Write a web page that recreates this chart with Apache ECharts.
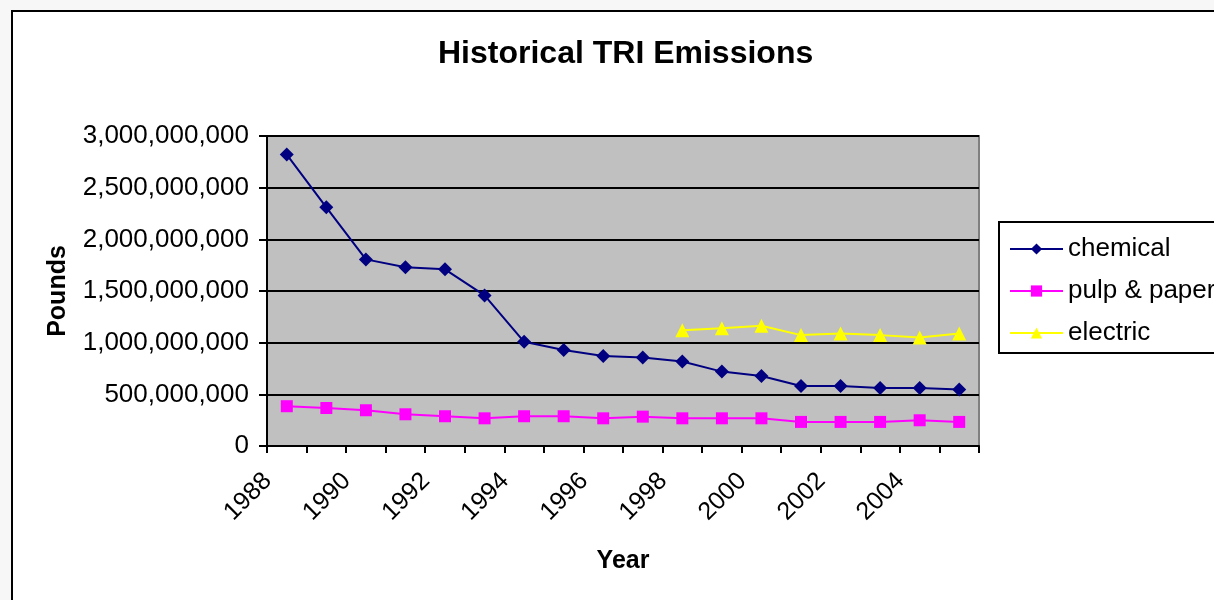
<!DOCTYPE html>
<html>
<head>
<meta charset="utf-8">
<script src="https://cdn.jsdelivr.net/npm/echarts@6/dist/echarts.min.js"></script>
<style>
  html, body { margin: 0; padding: 0; background: #f7f7f7; overflow: hidden; }
  #frame { position: absolute; left: 11px; top: 10px; width: 1300px; height: 700px; border: 2px solid #000; background: #fff; }
  #chart { position: absolute; left: 0; top: 0; width: 1214px; height: 600px; }
</style>
</head>
<body>
<div id="frame"></div>
<div id="chart"></div>
<script>
  // data
  var years = ['1988','1989','1990','1991','1992','1993','1994','1995','1996',
               '1997','1998','1999','2000','2001','2002','2003','2004','2005'];
  var chemical = [2820000000, 2310000000, 1806000000, 1730000000, 1710000000, 1457000000,
                  1008000000, 930000000, 872000000, 856000000, 817000000, 720000000,
                  678000000, 580000000, 580000000, 562000000, 562000000, 546000000];
  var pulpPaper = [385000000, 368000000, 346000000, 307000000, 288000000, 268000000,
                   288000000, 288000000, 268000000, 284000000, 268000000, 268000000,
                   268000000, 233000000, 233000000, 233000000, 249000000, 233000000];
  var electric = [null, null, null, null, null, null, null, null, null, null,
                  1120000000, 1140000000, 1163000000, 1073000000, 1089000000, 1073000000,
                  1050000000, 1089000000];

  var font = "'Liberation Sans', Arial, sans-serif";
  var myChart = echarts.init(document.getElementById('chart'));

  var option = {
    animation: false,
    title: {
      text: 'Historical TRI Emissions',
      left: 433,
      top: 33,
      textStyle: { fontFamily: font, fontSize: 32, fontWeight: 'bold', color: '#000' }
    },
    legend: {
      orient: 'vertical',
      left: 999,
      top: 222,
      borderColor: '#000',
      borderWidth: 2,
      padding: [14, 60, 7, 10],
      itemWidth: 53,
      itemHeight: 14,
      itemGap: 16,
      textStyle: { fontFamily: font, fontSize: 26, color: '#000' },
      data: ['chemical', 'pulp & paper', 'electric']
    },
    grid: {
      left: 267,
      right: 235,
      top: 136,
      bottom: 154,
      show: true,
      backgroundColor: '#c0c0c0',
      borderColor: '#808080',
      borderWidth: 2
    },
    xAxis: {
      type: 'category',
      data: years,
      boundaryGap: true,
      name: 'Year',
      nameLocation: 'middle',
      nameGap: 103,
      nameTextStyle: { fontFamily: font, fontSize: 25, fontWeight: 'bold', color: '#000' },
      axisLine: { lineStyle: { color: '#000', width: 2 } },
      axisTick: { show: true, interval: 0, length: 7, lineStyle: { color: '#000', width: 2 } },
      axisLabel: {
        interval: 1, rotate: 45, margin: 12,
        padding: [8, 27, 0, 0],
        fontFamily: font, fontSize: 25, color: '#000'
      },
      splitLine: { show: false }
    },
    yAxis: {
      type: 'value',
      min: 0,
      max: 3000000000,
      interval: 500000000,
      name: 'Pounds',
      nameLocation: 'middle',
      nameRotate: 90,
      nameGap: 196,
      nameTextStyle: { fontFamily: font, fontSize: 25, fontWeight: 'bold', color: '#000' },
      axisLine: { show: true, lineStyle: { color: '#000', width: 2 } },
      axisTick: { show: true, length: 8, lineStyle: { color: '#000', width: 2 } },
      axisLabel: {
        margin: 18,
        fontFamily: font,
        fontSize: 26,
        color: '#000',
        formatter: function (v) { return v.toLocaleString('en-US'); }
      },
      splitLine: { lineStyle: { color: '#000', width: 2 } }
    },
    series: [
      {
        name: 'chemical',
        type: 'line',
        data: chemical,
        symbol: 'diamond',
        symbolSize: 14,
        itemStyle: { color: '#000080' },
        lineStyle: { color: '#000080', width: 2 }
      },
      {
        name: 'pulp & paper',
        type: 'line',
        data: pulpPaper,
        symbol: 'rect',
        symbolSize: 12,
        itemStyle: { color: '#ff00ff' },
        lineStyle: { color: '#ff00ff', width: 2 }
      },
      {
        name: 'electric',
        type: 'line',
        data: electric,
        symbol: 'triangle',
        symbolSize: 14,
        itemStyle: { color: '#ffff00' },
        lineStyle: { color: '#ffff00', width: 2 }
      }
    ]
  };
  myChart.setOption(option);
</script>
</body>
</html>
